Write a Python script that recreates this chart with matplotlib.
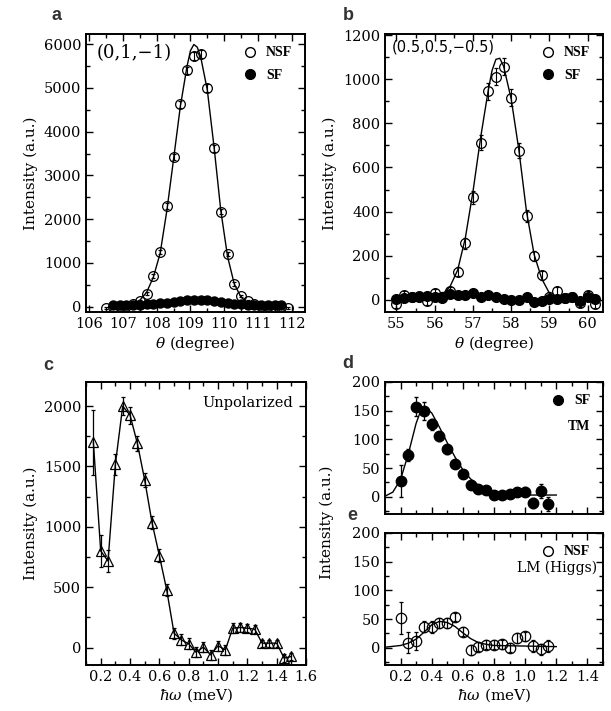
import matplotlib
matplotlib.use("Agg")
import matplotlib.pyplot as plt
from matplotlib.lines import Line2D
from matplotlib.ticker import MultipleLocator

plt.rcParams["font.family"] = "DejaVu Serif"
plt.rcParams["mathtext.fontset"] = "dejavuserif"

# ---- panel a: (0,1,-1) theta scan ----
a_nsf_x = [106.5, 106.7, 106.9, 107.1, 107.3, 107.5, 107.7, 107.9, 108.1, 108.3, 108.5, 108.7, 108.9, 109.1,
           109.3, 109.5, 109.7, 109.9, 110.1, 110.3, 110.5, 110.7, 110.9, 111.1, 111.3, 111.5, 111.7, 111.9]
a_nsf_y = [-30, 0, 10, 20, 70, 130, 300, 700, 1250, 2300, 3420, 4630, 5400, 5720,
           5770, 5000, 3620, 2170, 1200, 520, 250, 130, 60, 20, 10, 0, 0, -30]
a_nsf_err = [20, 20, 20, 20, 25, 30, 35, 45, 55, 65, 75, 80, 85, 90,
             90, 85, 75, 60, 50, 35, 25, 20, 20, 20, 20, 20, 20, 20]
a_sf_x = [106.7, 106.9, 107.1, 107.3, 107.5, 107.7, 107.9, 108.1, 108.3, 108.5, 108.7, 108.9, 109.1,
          109.3, 109.5, 109.7, 109.9, 110.1, 110.3, 110.5, 110.7, 110.9, 111.1, 111.3, 111.5, 111.7]
a_sf_y = [35, 35, 40, 45, 50, 55, 65, 80, 95, 115, 135, 150, 165,
          165, 150, 130, 110, 90, 70, 55, 45, 40, 35, 35, 35, 30]
a_fit_x = [106.6, 107.0, 107.3, 107.5, 107.7, 107.9, 108.1, 108.3, 108.5, 108.7, 108.9, 109.0, 109.1,
           109.2, 109.3, 109.5, 109.7, 109.9, 110.1, 110.3, 110.5, 110.7, 110.9, 111.2, 111.8]
a_fit_y = [0, 15, 70, 150, 330, 680, 1220, 2200, 3380, 4580, 5500, 5850, 5990,
           5930, 5720, 4950, 3650, 2200, 1150, 520, 220, 90, 35, 10, 0]

# ---- panel b: (0.5,0.5,-0.5) theta scan ----
b_x = [55.0, 55.2, 55.4, 55.6, 55.8, 56.0, 56.2, 56.4, 56.6, 56.8, 57.0, 57.2, 57.4, 57.6,
       57.8, 58.0, 58.2, 58.4, 58.6, 58.8, 59.0, 59.2, 59.4, 59.6, 59.8, 60.0, 60.2]
b_nsf_y = [-18, 23, 12, 18, -5, 30, 15, 40, 128, 256, 464, 711, 946, 1012,
           1057, 916, 675, 380, 199, 111, 15, 40, 10, 12, -15, 23, -18]
b_nsf_err = [18, 18, 18, 18, 18, 20, 20, 20, 22, 26, 30, 34, 38, 40,
             40, 38, 34, 28, 24, 22, 20, 20, 18, 18, 18, 18, 18]
b_sf_y = [5, 10, 15, 15, 18, 15, 10, 25, 22, 20, 30, 12, 22, 15,
          2, -2, 0, 12, -12, -3, 5, 3, 8, 15, -5, 12, 5]
b_fit_x = [56.0, 56.2, 56.4, 56.6, 56.8, 57.0, 57.2, 57.4, 57.5, 57.6, 57.7, 57.8,
           58.0, 58.2, 58.4, 58.6, 58.8, 59.0, 59.2]
b_fit_y = [5, 25, 60, 135, 280, 490, 735, 950, 1040, 1090, 1095, 1060,
           910, 680, 400, 205, 95, 30, 8]

# ---- panel c: unpolarized energy scan ----
c_x = [0.15, 0.20, 0.25, 0.30, 0.35, 0.40, 0.45, 0.50, 0.55, 0.60, 0.65, 0.70, 0.75, 0.80,
       0.85, 0.90, 0.95, 1.00, 1.05, 1.10, 1.15, 1.20, 1.25, 1.30, 1.35, 1.40, 1.45, 1.50]
c_y = [1702, 800, 717, 1517, 2000, 1926, 1691, 1388, 1034, 761, 477, 119, 63, 30,
       -39, 3, -61, 14, -19, 160, 166, 160, 152, 36, 36, 36, -88, -74]
c_err = [270, 135, 90, 85, 75, 70, 65, 60, 55, 55, 50, 45, 45, 45,
         40, 40, 40, 40, 40, 40, 35, 35, 35, 30, 30, 30, 30, 30]

# ---- panel d: SF, transverse mode ----
d_x = [0.20, 0.25, 0.30, 0.35, 0.40, 0.45, 0.50, 0.55, 0.60, 0.65, 0.70, 0.75, 0.80, 0.85,
       0.90, 0.95, 1.00, 1.05, 1.10, 1.15]
d_y = [28, 73, 157, 149, 126, 105, 83, 57, 40, 20, 14, 12, 3, 3,
       5, 8, 9, -11, 10, -13]
d_err = [28, 11, 16, 16, 9, 8, 8, 7, 7, 7, 7, 7, 7, 7,
         7, 7, 8, 8, 12, 12]
d_fit_x = [0.10, 0.15, 0.20, 0.25, 0.30, 0.33, 0.36, 0.40, 0.45, 0.50, 0.55, 0.60, 0.65,
           0.70, 0.75, 0.80, 0.90, 1.00, 1.20]
d_fit_y = [1, 8, 30, 75, 128, 150, 155, 146, 121, 94, 69, 47, 31,
           20, 12, 7, 4, 3, 3]

# ---- panel e: NSF, longitudinal (Higgs) mode ----
e_x = d_x
e_y = [52, 9, 12, 37, 36, 43, 43, 54, 28, -4, 2, 5, 5, 6,
       0, 17, 20, 3, -3, 3]
e_err = [28, 18, 16, 10, 10, 9, 9, 7, 8, 8, 8, 8, 8, 8,
         8, 8, 8, 10, 10, 10]
e_fit_x = [0.10, 0.20, 0.25, 0.30, 0.35, 0.40, 0.45, 0.50, 0.55, 0.60, 0.65, 0.70, 0.75,
           0.80, 1.00, 1.20]
e_fit_y = [1, 4, 8, 15, 27, 40, 46, 44, 37, 26, 16, 9, 6,
           4, 3, 2]

fig = plt.figure(figsize=(6.11, 7.11), dpi=100)
ax_a = fig.add_axes([0.1408, 0.5612, 0.3584, 0.3910])
ax_b = fig.add_axes([0.6301, 0.5612, 0.3568, 0.3910])
ax_c = fig.add_axes([0.1408, 0.0647, 0.3601, 0.3980])
ax_d = fig.add_axes([0.6301, 0.2771, 0.3568, 0.1857])
ax_e = fig.add_axes([0.6301, 0.0647, 0.3568, 0.1857])

leg_font = {"family": "Liberation Serif", "weight": "bold", "size": 10}


def style(ax, xmaj, xmin, ymaj, ymin):
    ax.xaxis.set_major_locator(MultipleLocator(xmaj))
    ax.xaxis.set_minor_locator(MultipleLocator(xmin))
    ax.yaxis.set_major_locator(MultipleLocator(ymaj))
    ax.yaxis.set_minor_locator(MultipleLocator(ymin))
    ax.tick_params(which="both", direction="in", top=True, right=True, labelsize=10.5)
    ax.tick_params(which="major", length=5, width=1)
    ax.tick_params(which="minor", length=3, width=1)
    for sp in ax.spines.values():
        sp.set_linewidth(1.4)


def legend(ax, entries):
    handles = [Line2D([], [], ls="none", marker="o", ms=7, mec="black",
                      mfc=fc, label=lab) for lab, fc in entries]
    ax.legend(handles=handles, loc="upper right", frameon=False, prop=leg_font,
              handletextpad=0.6, labelspacing=0.7, borderaxespad=0.5, handlelength=1.2)


# panel a
ax_a.plot(a_fit_x, a_fit_y, color="black", lw=1)
ax_a.errorbar(a_nsf_x, a_nsf_y, yerr=a_nsf_err, fmt="o", ms=7, mfc="none", mec="black",
              ecolor="black", elinewidth=0.8, capsize=1.5, mew=0.9)
ax_a.errorbar(a_sf_x, a_sf_y, yerr=15, fmt="o", ms=6.5, mfc="black", mec="black",
              ecolor="black", elinewidth=0.8, capsize=1.5)
ax_a.set_xlim(105.9, 112.4)
ax_a.set_ylim(-120, 6230)
style(ax_a, 1, 0.5, 1000, 500)
ax_a.set_xlabel(r"$\theta$ (degree)", fontsize=11, labelpad=2)
ax_a.set_ylabel("Intensity (a.u.)", fontsize=11)
ax_a.text(0.05, 0.93, "(0,1,−1)", transform=ax_a.transAxes, fontsize=13, va="center")
legend(ax_a, [("NSF", "white"), ("SF", "black")])

# panel b
ax_b.plot(b_fit_x, b_fit_y, color="black", lw=1)
ax_b.errorbar(b_x, b_nsf_y, yerr=b_nsf_err, fmt="o", ms=7, mfc="none", mec="black",
              ecolor="black", elinewidth=0.8, capsize=1.5, mew=0.9)
ax_b.errorbar(b_x, b_sf_y, yerr=10, fmt="o", ms=7, mfc="black", mec="black",
              ecolor="black", elinewidth=0.8, capsize=1.5)
ax_b.set_xlim(54.7, 60.4)
ax_b.set_ylim(-55, 1205)
style(ax_b, 1, 0.5, 200, 100)
ax_b.set_xlabel(r"$\theta$ (degree)", fontsize=11, labelpad=2)
ax_b.set_ylabel("Intensity (a.u.)", fontsize=11)
ax_b.text(0.03, 0.953, "(0.5,0.5,−0.5)", transform=ax_b.transAxes, fontsize=10.5,
          va="center", family="DejaVu Sans")
legend(ax_b, [("NSF", "white"), ("SF", "black")])

# panel c
ax_c.errorbar(c_x, c_y, yerr=c_err, fmt="-^", ms=6.5, mfc="none", mec="black", color="black",
              lw=1, ecolor="black", elinewidth=0.9, capsize=1.5, mew=0.9)
ax_c.set_xlim(0.1, 1.6)
ax_c.set_ylim(-145, 2200)
style(ax_c, 0.2, 0.1, 500, 250)
ax_c.set_xlabel(r"$\hbar\omega$ (meV)", fontsize=11, labelpad=2)
ax_c.set_ylabel("Intensity (a.u.)", fontsize=11)
ax_c.text(0.94, 0.925, "Unpolarized", transform=ax_c.transAxes, fontsize=10.5,
          ha="right", va="center")

# panel d
ax_d.plot(d_fit_x, d_fit_y, color="black", lw=1)
ax_d.errorbar(d_x, d_y, yerr=d_err, fmt="o", ms=7.5, mfc="black", mec="black",
              ecolor="black", elinewidth=0.9, capsize=1.5)
ax_d.set_xlim(0.1, 1.5)
ax_d.set_ylim(-30, 200)
style(ax_d, 0.2, 0.1, 50, 25)
ax_d.tick_params(labelbottom=False)
legend(ax_d, [("SF", "black")])
ax_d.text(0.84, 0.66, "TM", transform=ax_d.transAxes, fontdict=leg_font, va="center")

# panel e
ax_e.plot(e_fit_x, e_fit_y, color="black", lw=1)
ax_e.errorbar(e_x, e_y, yerr=e_err, fmt="o", ms=7.5, mfc="none", mec="black",
              ecolor="black", elinewidth=0.9, capsize=1.5, mew=0.9)
ax_e.set_xlim(0.1, 1.5)
ax_e.set_ylim(-30, 200)
style(ax_e, 0.2, 0.1, 50, 25)
ax_e.set_xlabel(r"$\hbar\omega$ (meV)", fontsize=11, labelpad=2)
legend(ax_e, [("NSF", "white")])
ax_e.text(0.975, 0.735, "LM (Higgs)", transform=ax_e.transAxes, fontsize=10,
          ha="right", va="center")

fig.text(0.535, 0.265, "Intensity (a.u.)", rotation=90, fontsize=11, ha="center", va="center")

# panel letters
for lab, x, y in [("a", 57, 16), ("b", 348, 16), ("c", 48, 365), ("d", 348, 364), ("e", 352, 516)]:
    fig.text(x / 611, 1 - y / 711, lab, fontsize=13, weight="bold", family="Liberation Sans",
             color="#333333", ha="center", va="center")

fig.savefig("out.png", dpi=100)
